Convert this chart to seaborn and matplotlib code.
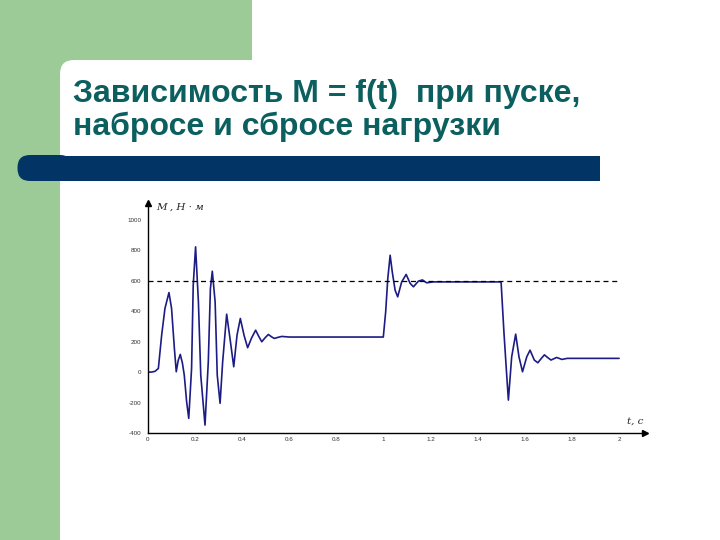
import numpy as np
import pandas as pd
import matplotlib
matplotlib.use("Agg")
import matplotlib.pyplot as plt
import seaborn as sns
from matplotlib.patches import Rectangle, FancyBboxPatch
from matplotlib.transforms import IdentityTransform

# ---------------- data ----------------
t_values = [0.000, 0.015, 0.030, 0.044, 0.058, 0.072, 0.089, 0.100, 0.112,
            0.120, 0.128, 0.137, 0.146, 0.154, 0.164, 0.173, 0.185, 0.192,
            0.202, 0.214, 0.224, 0.242, 0.256, 0.265, 0.273, 0.285, 0.294,
            0.306, 0.317, 0.334, 0.350, 0.364, 0.378, 0.392, 0.408, 0.423,
            0.440, 0.457, 0.470, 0.483, 0.497, 0.511, 0.524, 0.536, 0.552,
            0.568, 0.600, 0.800, 0.999, 1.009, 1.018, 1.028, 1.037, 1.049,
            1.060, 1.077, 1.096, 1.113, 1.127, 1.148, 1.165, 1.183, 1.210,
            1.300, 1.400, 1.499, 1.511, 1.522, 1.530, 1.544, 1.561, 1.575,
            1.590, 1.608, 1.622, 1.640, 1.655, 1.670, 1.683, 1.697, 1.711,
            1.735, 1.757, 1.780, 1.850, 2.000]
m_values = [0, 0, 5, 24, 243, 418, 522, 418, 155,
            2, 75, 116, 60, -20, -195, -304, 24, 570,
            822, 461, -20, -348, 68, 549, 662, 461, -20,
            -205, 68, 380, 199, 35, 243, 352, 240, 160,
            225, 275, 235, 199, 225, 247, 232, 221, 228,
            234, 230, 230, 230, 395, 614, 767, 658, 538,
            494, 592, 641, 582, 560, 597, 605, 586, 592,
            592, 592, 592, 264, 0, -184, 100, 249, 100,
            2, 100, 144, 79, 61, 90, 113, 95, 79,
            96, 83, 90, 90, 90]

ref_level = 600
ref_t_end = 2.0
x_ticks = [0, 0.2, 0.4, 0.6, 0.8, 1, 1.2, 1.4, 1.6, 1.8, 2]
x_tick_labels = ["0", "0.2", "0.4", "0.6", "0.8", "1", "1.2", "1.4", "1.6", "1.8", "2"]
y_ticks = [-400, -200, 0, 200, 400, 600, 800, 1000]
y_tick_labels = ["-400", "-200", "0", "200", "400", "600", "800", "1000"]

title_line1 = "Зависимость М = f(t)  при пуске,"
title_line2 = "набросе и сбросе нагрузки"
y_label = "M , Н · м"
x_label = "t, с"

df = pd.DataFrame({"t": t_values, "M": m_values})

# ---------------- figure ----------------
sns.set_theme(style="white")
plt.rcParams["font.family"] = ["Liberation Sans", "DejaVu Sans"]

W, H = 720, 540
fig = plt.figure(figsize=(W / 100, H / 100), dpi=100)
fig.patch.set_facecolor("white")

GREEN = "#9ccb98"
NAVY = "#033466"
TEAL = "#0c5f5f"


def px(x, y):
    """top-left pixel coords -> display coords (bottom-left origin)"""
    return x, H - y


id_tr = IdentityTransform()
# green decoration
fig.add_artist(Rectangle(px(0, 540), 252, 540, transform=id_tr,
                         facecolor=GREEN, edgecolor="none", zorder=0))
# white content area with rounded top-left corner
fig.add_artist(FancyBboxPatch(px(72, 560), 700, 488,
                              boxstyle="round,pad=12,rounding_size=14",
                              transform=id_tr, facecolor="white",
                              edgecolor="none", zorder=0.5))
# navy bar
fig.add_artist(FancyBboxPatch(px(30, 168.5), 30, 1,
                              boxstyle="round,pad=12.5,rounding_size=12.5",
                              transform=id_tr, facecolor=NAVY,
                              edgecolor="none", zorder=1))
fig.add_artist(Rectangle(px(40, 181), 560, 25.5, transform=id_tr,
                         facecolor=NAVY, edgecolor="none", zorder=1))

# title
fig.text(73 / W, 1 - 102 / H, title_line1, fontsize=23, fontweight="bold",
         color=TEAL, ha="left", va="baseline", zorder=2)
fig.text(73 / W, 1 - 135 / H, title_line2, fontsize=23, fontweight="bold",
         color=TEAL, ha="left", va="baseline", zorder=2)

# ---------------- chart ----------------
ax = fig.add_axes([148 / W, (H - 433) / H, (645 - 148) / W, (433 - 203) / H])
ax.set_facecolor("none")
ax.set_zorder(3)

sns.lineplot(data=df, x="t", y="M", ax=ax, color="#1c1c84", linewidth=1.2,
             estimator=None, sort=False)
ax.hlines(ref_level, 0, ref_t_end, colors="black", linestyles=(0, (4, 3)),
          linewidth=0.9)

ax.set_xlim(0, 2.11)
ax.set_ylim(-400, 1110)
ax.set_xticks(x_ticks)
ax.set_xticklabels(x_tick_labels)
ax.set_yticks(y_ticks)
ax.set_yticklabels(y_tick_labels)
ax.tick_params(axis="both", length=0, labelsize=4.5, labelcolor="#333333")
ax.tick_params(axis="x", pad=3)
ax.tick_params(axis="y", pad=5)
ax.set_xlabel("")
ax.set_ylabel("")
for s in ["top", "right"]:
    ax.spines[s].set_visible(False)
for s in ["left", "bottom"]:
    ax.spines[s].set_color("black")
    ax.spines[s].set_linewidth(1.0)

ax.plot(1, 0, marker=">", color="black", markersize=5,
        transform=ax.transAxes, clip_on=False)
ax.plot(0, 1, marker="^", color="black", markersize=5,
        transform=ax.transAxes, clip_on=False)

fig.text(156 / W, 1 - 207 / H, y_label, fontsize=7.5, style="italic",
         family="DejaVu Serif", ha="left", va="center", zorder=4)
fig.text(627 / W, 1 - 421 / H, x_label, fontsize=7.5, style="italic",
         family="DejaVu Serif", ha="left", va="center", zorder=4)

fig.savefig("out.png", dpi=100)
